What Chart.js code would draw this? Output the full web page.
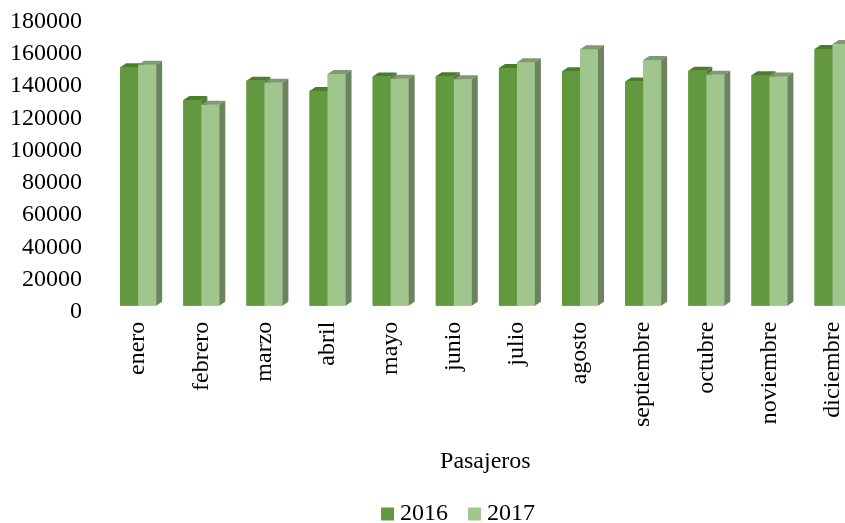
<!DOCTYPE html>
<html><head><meta charset="utf-8">
<script src="https://cdn.jsdelivr.net/npm/chart.js@4"></script>
<style>html,body{margin:0;padding:0;overflow:hidden;background:#fff}#wrap{width:900px;height:536px}</style>
</head><body><div id="wrap"><canvas id="c" width="900" height="536"></canvas></div>
<script>
const categories = ['enero','febrero','marzo','abril','mayo','junio','julio','agosto','septiembre','octubre','noviembre','diciembre'];
const values2016 = [148000,127700,139700,133300,142200,142400,147600,145500,139100,145900,143000,159300];
const values2017 = [149600,124800,138400,143800,140900,140500,151100,159200,152500,143400,142200,162400];
const seriesNames = ['2016','2017'];
const yTickValues = [0,20000,40000,60000,80000,100000,120000,140000,160000,180000];
const axisTitle = 'Pasajeros';

const FONT = {family:"'Liberation Serif','Times New Roman',serif", size:24};

const depth3d = {
  id:'depth3d',
  afterLayout(chart){
    if (chart.legend) { chart.legend.left += 24; chart.legend.right += 24; }
  },
  afterDatasetsDraw(chart){
    const ctx = chart.ctx;
    const dx = 6, dy = 4;
    chart.data.datasets.forEach((ds, i) => {
      const meta = chart.getDatasetMeta(i);
      meta.data.forEach(el => {
        const p = el.getProps(['x','y','base','width'], true);
        const l = p.x - p.width/2, r = p.x + p.width/2, t = p.y, b = p.base;
        el.draw(ctx);
        ctx.save();
        ctx.fillStyle = ds.topColor;
        ctx.beginPath(); ctx.moveTo(l,t); ctx.lineTo(r,t); ctx.lineTo(r+dx,t-dy); ctx.lineTo(l+dx,t-dy); ctx.closePath(); ctx.fill();
        ctx.fillStyle = ds.sideColor;
        ctx.beginPath(); ctx.moveTo(r,t); ctx.lineTo(r+dx,t-dy); ctx.lineTo(r+dx,b-dy); ctx.lineTo(r,b); ctx.closePath(); ctx.fill();
        ctx.restore();
      });
    });
  }
};

new Chart(document.getElementById('c'), {
  type:'bar',
  data:{
    labels:categories,
    datasets:[
      {label:seriesNames[0], data:values2016, backgroundColor:'#63993E', topColor:'#4A7C2C', sideColor:'#4F7A35', borderWidth:0},
      {label:seriesNames[1], data:values2017, backgroundColor:'#A1C68D', topColor:'#7F9A70', sideColor:'#6B835E', borderWidth:0}
    ]
  },
  options:{
    responsive:false, animation:false, devicePixelRatio:1,
    barPercentage:1.0, categoryPercentage:0.57,
    layout:{padding:{left:10, right:35.9, top:15.7, bottom:0}},
    plugins:{
      tooltip:{enabled:false},
      legend:{
        position:'bottom',
        labels:{font:FONT, color:'#000', usePointStyle:true, pointStyle:'rect', boxWidth:1, boxHeight:13, padding:26}
      }
    },
    scales:{
      x:{
        grid:{display:false, drawTicks:false}, border:{display:false},
        ticks:{font:FONT, color:'#000', maxRotation:90, minRotation:90, autoSkip:false, padding:16},
        title:{display:true, text:axisTitle, font:FONT, color:'#000', padding:{top:0,bottom:0}},
        afterFit(s){ s.height = 170.3; s.paddingLeft = 0; s.paddingRight = 0; }
      },
      y:{
        min:0, max:180000,
        grid:{display:false, drawTicks:false}, border:{display:false},
        afterBuildTicks(s){ s.ticks = yTickValues.map(v => ({value:v})); },
        ticks:{font:FONT, color:'#000', padding:24.6, labelOffset:6, autoSkip:false, callback:v => String(v)},
        afterFit(s){ s.width = 96.6; s.paddingTop = 0; s.paddingBottom = 0; }
      }
    }
  },
  plugins:[depth3d]
});
</script>
</body></html>
